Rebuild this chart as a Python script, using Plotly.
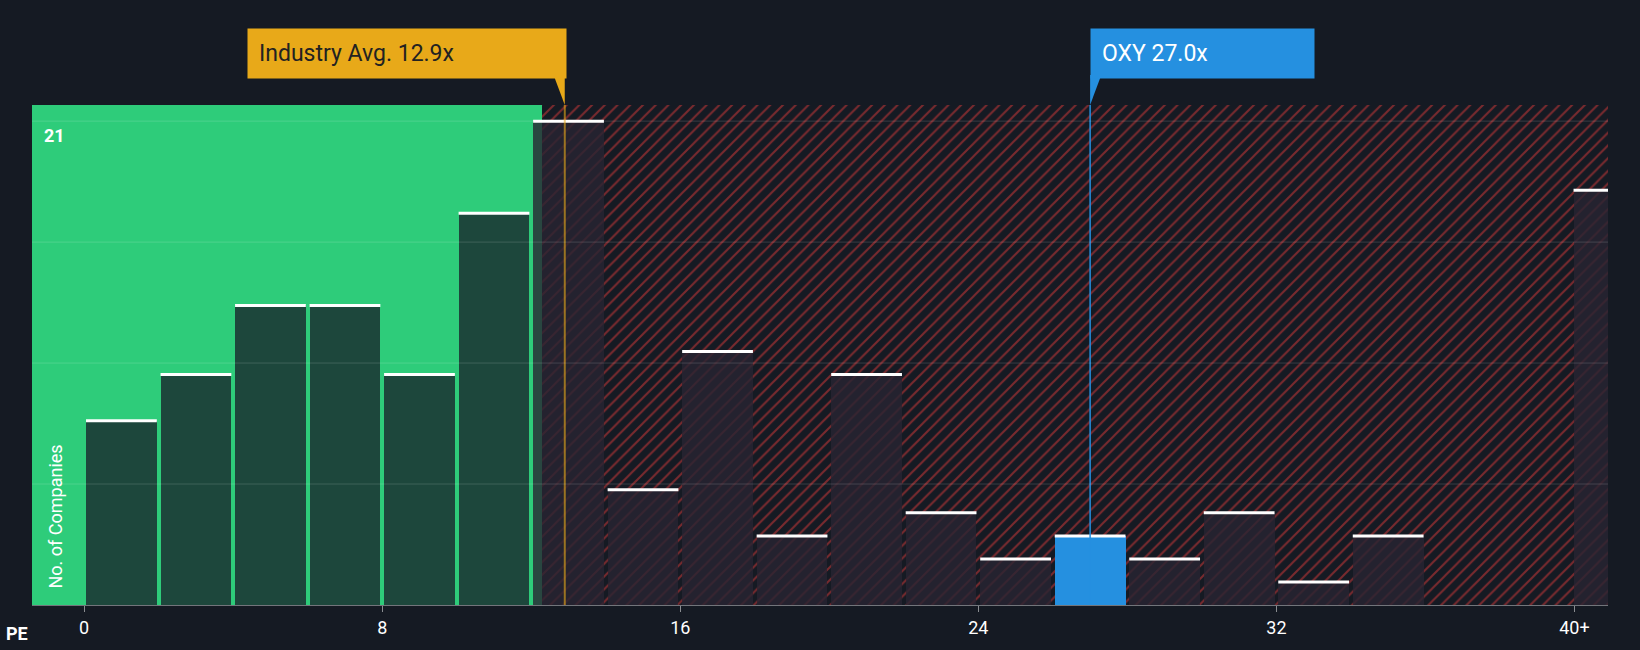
import plotly.graph_objects as go

# PE histogram bins (width 2), last bar is "40+"
bin_starts = [0, 2, 4, 6, 8, 10, 12, 14, 16, 18, 20, 22, 24, 26, 28, 30, 32, 34, 36, 38]
counts = [8, 10, 13, 13, 10, 17, 21, 5, 11, 3, 10, 4, 2, 3, 2, 4, 1, 3, 0, 0]
over_40 = 18
industry_avg = 12.9
oxy_pe = 27.0
tick_vals = [0, 8, 16, 24, 32, 40]
tick_text = ["0", "8", "16", "24", "32", "40+"]

BG = "#151a23"
x0, x1 = -1.4, 40.9
ytop = 21.7

fig = go.Figure()

# green "below average" zone and hatched red zone
fig.add_shape(type="rect", x0=x0, x1=12.3, y0=0, y1=ytop, fillcolor="#2ecc7a", line_width=0, layer="below")
fig.add_trace(go.Bar(x=[(12.3 + x1) / 2], y=[ytop], width=[x1 - 12.3], marker=dict(
    color=BG, line_width=0,
    pattern=dict(shape="/", fgcolor="#e03a3a", bgcolor=BG, size=9, solidity=0.22)),
    hoverinfo="skip", showlegend=False))

centers = [s + 1 for s in bin_starts] + [40.5]
vals = counts + [over_40]
widths = [1.9] * len(bin_starts) + [1.05]
colors = []
for s in bin_starts:
    if s == 26:
        colors.append("#2590e0")
    elif s < 12:
        colors.append("rgba(28,60,55,0.93)")
    else:
        colors.append("rgba(40,36,50,0.8)")
colors.append("rgba(40,36,50,0.8)")
fig.add_trace(go.Bar(x=centers, y=vals, width=widths, marker=dict(color=colors, line_width=0),
                     showlegend=False, hoverinfo="x+y"))

# white caps on each bar
cx, cy = [], []
for c, v, w in zip(centers, vals, widths):
    if v > 0:
        cx += [c - w / 2, c + w / 2, None]
        cy += [v, v, None]
fig.add_trace(go.Scatter(x=cx, y=cy, mode="lines", line=dict(color="white", width=3),
                         showlegend=False, hoverinfo="skip"))

# marker lines
fig.add_shape(type="line", x0=industry_avg, x1=industry_avg, y0=0, y1=ytop, line=dict(color="#e8a919", width=2), opacity=0.6)
fig.add_shape(type="line", x0=oxy_pe, x1=oxy_pe, y0=0, y1=ytop, line=dict(color="#2590e0", width=1.5))

for g in [5.25, 10.5, 15.75, 21]:
    fig.add_shape(type="line", x0=x0, x1=x1, y0=g, y1=g, line=dict(color="rgba(255,255,255,0.15)", width=1))

# callout boxes
fig.add_annotation(x=industry_avg, xanchor="right", xshift=2, y=1.0, yref="paper", yshift=26, yanchor="bottom",
                   text="Industry Avg. 12.9x", showarrow=False, bgcolor="#e8a919",
                   font=dict(color="#222222", size=23, family="Roboto"), borderpad=11, width=296, align="left")
fig.add_annotation(x=oxy_pe, xanchor="left", y=1.0, yref="paper", yshift=26, yanchor="bottom",
                   text="OXY 27.0x", showarrow=False, bgcolor="#2590e0",
                   font=dict(color="white", size=23, family="Roboto"), borderpad=11, width=201, align="left")
fig.add_shape(type="path", xref="x", yref="paper",
              path=f"M {industry_avg-0.3} 1.06 L {industry_avg} 1.06 L {industry_avg} 1.0 Z",
              fillcolor="#e8a919", line_width=0)
fig.add_shape(type="path", xref="x", yref="paper",
              path=f"M {oxy_pe} 1.06 L {oxy_pe+0.3} 1.06 L {oxy_pe} 1.0 Z",
              fillcolor="#2590e0", line_width=0)

fig.add_annotation(x=x0, xref="x", xanchor="left", xshift=10, y=21, yanchor="top", yshift=-2,
                   text="<b>21</b>", showarrow=False, font=dict(color="white", size=18, family="Roboto"))
fig.add_annotation(x=x0, xref="x", xanchor="left", xshift=10, y=0, yanchor="bottom", yshift=14,
                   text="No. of Companies", textangle=-90, showarrow=False,
                   font=dict(color="white", size=18, family="Roboto"))
fig.add_annotation(x=0, xref="paper", xanchor="right", xshift=-2, y=0, yanchor="top", yshift=-16,
                   text="<b>PE</b>", showarrow=False, font=dict(color="white", size=18, family="Roboto"))

fig.update_layout(
    width=1640, height=650, paper_bgcolor=BG, plot_bgcolor=BG,
    margin=dict(l=32, r=32, t=105, b=42), barmode="overlay", bargap=0,
    font=dict(family="Roboto", color="white"),
    xaxis=dict(range=[x0, x1], tickvals=tick_vals, ticktext=tick_text, showgrid=False, zeroline=False,
               ticks="outside", ticklen=6, tickcolor="rgba(255,255,255,0.5)",
               tickfont=dict(size=18, color="white"), showline=True, linecolor="rgba(255,255,255,0.4)"),
    yaxis=dict(range=[0, ytop], showticklabels=False, showgrid=False, zeroline=False),
)
fig.write_html("out.html", config={"displayModeBar": False},
               post_script="document.body.style.margin='0';document.body.style.background='#151a23';")
